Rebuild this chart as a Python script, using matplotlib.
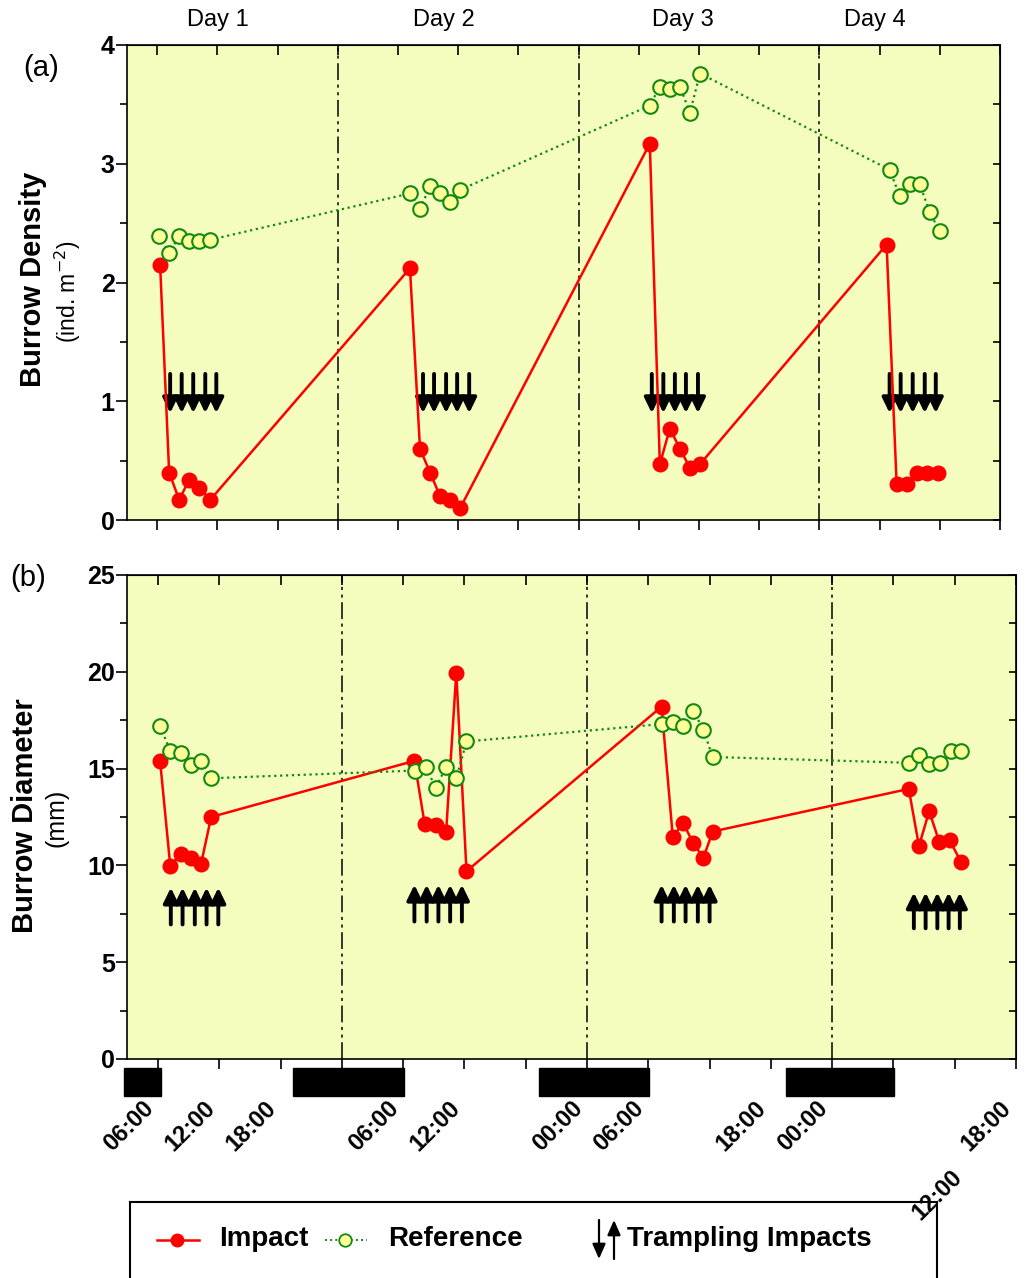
import numpy as np
import matplotlib
matplotlib.use("Agg")
import matplotlib.pyplot as plt
import matplotlib.transforms as mtransforms
from matplotlib.patches import Rectangle

plt.rcParams['font.family'] = ['Liberation Sans', 'DejaVu Sans']

# time axis in hours from 00:00 of day 1
dens_ref_t = [6.2, 7.2, 8.2, 9.2, 10.2, 11.3, 31.2, 32.2, 33.2, 34.2, 35.2, 36.2,
              55.1, 56.1, 57.1, 58.1, 59.1, 60.1, 79.0, 80.0, 81.0, 82.0, 83.0, 84.0]
dens_ref = [2.39, 2.25, 2.39, 2.35, 2.35, 2.36, 2.75, 2.62, 2.81, 2.75, 2.68, 2.78,
            3.49, 3.65, 3.63, 3.65, 3.43, 3.76, 2.95, 2.73, 2.83, 2.83, 2.59, 2.43]
dens_imp_t = [6.3, 7.2, 8.2, 9.2, 10.2, 11.3, 31.2, 32.2, 33.2, 34.2, 35.2, 36.2,
              55.1, 56.1, 57.1, 58.1, 59.1, 60.1, 78.7, 79.7, 80.7, 81.7, 82.7, 83.8]
dens_imp = [2.15, 0.40, 0.17, 0.34, 0.27, 0.17, 2.12, 0.60, 0.40, 0.20, 0.17, 0.10,
            3.17, 0.47, 0.77, 0.60, 0.44, 0.47, 2.32, 0.30, 0.30, 0.40, 0.40, 0.40]

diam_ref_t = [6.2, 7.2, 8.2, 9.2, 10.2, 11.2, 31.2, 32.2, 33.2, 34.2, 35.2, 36.2,
              55.3, 56.4, 57.4, 58.4, 59.4, 60.3, 79.5, 80.5, 81.5, 82.6, 83.6, 84.6]
diam_ref = [17.2, 15.9, 15.8, 15.2, 15.4, 14.5, 14.9, 15.1, 14.0, 15.1, 14.5, 16.4,
            17.3, 17.4, 17.2, 18.0, 17.0, 15.6, 15.3, 15.7, 15.25, 15.3, 15.9, 15.9]
diam_imp_t = [6.2, 7.2, 8.2, 9.2, 10.2, 11.2, 31.1, 32.1, 33.2, 34.2, 35.2, 36.2,
              55.3, 56.4, 57.4, 58.4, 59.4, 60.3, 79.5, 80.5, 81.5, 82.5, 83.5, 84.6]
diam_imp = [15.4, 9.95, 10.6, 10.4, 10.05, 12.5, 15.4, 12.15, 12.1, 11.7, 19.95, 9.7,
            18.2, 11.45, 12.2, 11.15, 10.4, 11.75, 13.95, 11.0, 12.8, 11.2, 11.3, 10.2]

# trampling events
dens_arrow_t = [7.3, 8.45, 9.6, 10.8, 11.9, 32.5, 33.6, 34.8, 35.9, 37.1,
                55.3, 56.45, 57.6, 58.7, 59.9, 79.0, 80.1, 81.3, 82.5, 83.6]
dens_arrow_from = 1.23
dens_arrow_to = 0.90
diam_arrow_t = [7.25, 8.4, 9.6, 10.75, 11.9, 31.1, 32.3, 33.45, 34.6, 35.75,
                55.3, 56.5, 57.65, 58.85, 60.0, 80.0, 81.15, 82.3, 83.4, 84.5]
diam_arrow_from = [6.95] * 5 + [7.1] * 5 + [7.1] * 5 + [6.75] * 5
diam_arrow_to = [8.85] * 5 + [9.0] * 5 + [9.0] * 5 + [8.6] * 5

night_start = [2.7, 19.2, 43.3, 67.5]
night_end = [6.3, 30.1, 54.1, 78.1]

hours = list(range(6, 91, 6))
midnights = [24, 48, 72]
hour_labels = ['06:00', '12:00', '18:00', '', '06:00', '12:00', '', '00:00',
               '06:00', '', '18:00', '00:00', '', '', '18:00']
day_names = ['Day 1', 'Day 2', 'Day 3', 'Day 4']
day_pos = [12.1, 34.6, 58.4, 77.5]

bg = '#F4FCBE'
red = '#FF0000'
green = '#128A12'
face = '#FFFF99'
midline = (0, (11, 3, 2, 3, 2, 3))

fig = plt.figure(figsize=(10.28, 12.78), dpi=100)
ax1 = fig.add_axes([127 / 1028, 1 - 520 / 1278, 873 / 1028, 475 / 1278])
ax2 = fig.add_axes([127.4 / 1028, 1 - 1059 / 1278, 888.6 / 1028, 484 / 1278])
ax1.set_zorder(2)
ax2.set_zorder(2)


def style_axis(ax, ymax, major, minor):
    ax.set_facecolor(bg)
    ax.set_xlim(3, 90)
    ax.set_ylim(0, ymax)
    ax.set_xticks(hours, labels=[''] * len(hours))
    yt = np.arange(0, ymax + 0.01, major)
    ax.set_yticks(yt, labels=['%d' % v for v in yt], fontweight='bold', fontsize=18)
    ax.set_yticks(np.arange(0, ymax + 0.01, minor), minor=True)
    ax.tick_params(axis='x', direction='out', length=7, width=1.2)
    ax.tick_params(axis='y', which='major', direction='out', length=8, width=1.2, pad=1)
    ax.tick_params(axis='y', which='minor', direction='out', length=5, width=1.2)
    top = ax.secondary_xaxis('top')
    top.set_ticks(hours)
    top.tick_params(axis='x', direction='in', length=7, width=1.2, labeltop=False)
    right = ax.secondary_yaxis('right')
    right.set_ticks(np.arange(0, ymax + 0.01, minor))
    right.tick_params(axis='y', direction='in', length=5, width=1.2, labelright=False)
    for m in midnights:
        ax.axvline(m, color='black', lw=1.1, linestyle=midline, zorder=1)
    for s in ax.spines.values():
        s.set_linewidth(1.2)


def draw_series(ax, t_imp, v_imp, t_ref, v_ref):
    ax.plot(t_imp, v_imp, color=red, lw=1.8, marker='o', ms=10.5,
            mfc=red, mec=red, zorder=3)
    ax.plot(t_ref, v_ref, color=green, lw=1.6, ls=':', marker='o', ms=10.5,
            mfc=face, mec=green, mew=1.5, zorder=4)


def arrow(ax, x, y0, y1):
    ax.annotate('', xy=(x, y1), xytext=(x, y0),
                arrowprops=dict(arrowstyle='-|>,head_length=0.45,head_width=0.22',
                                color='black', lw=2.8, mutation_scale=20,
                                shrinkA=0, shrinkB=0), zorder=2)


# (a) burrow density
style_axis(ax1, 4, 1, 0.5)
draw_series(ax1, dens_imp_t, dens_imp, dens_ref_t, dens_ref)
for t in dens_arrow_t:
    arrow(ax1, t, dens_arrow_from, dens_arrow_to)
for name, p in zip(day_names, day_pos):
    ax1.text(p, 1.053, name, transform=ax1.get_xaxis_transform(),
             ha='center', va='center', fontsize=17)

# (b) burrow diameter
style_axis(ax2, 25, 5, 2.5)
draw_series(ax2, diam_imp_t, diam_imp, diam_ref_t, diam_ref)
for t, a, b in zip(diam_arrow_t, diam_arrow_from, diam_arrow_to):
    arrow(ax2, t, a, b)

ax2.set_xticks(hours, labels=hour_labels, rotation=45, ha='right',
               fontweight='bold', fontsize=17)
ax2.tick_params(axis='x', pad=20)
trans = mtransforms.blended_transform_factory(ax2.transData, ax2.transAxes)
for s, e in zip(night_start, night_end):
    ax2.add_patch(Rectangle((s, -0.0765), e - s, 0.0575, transform=trans,
                            facecolor='black', edgecolor='black', clip_on=False))
ax2.annotate('12:00', xy=(84, 0), xycoords=trans, xytext=(9, -77),
             textcoords='offset points', rotation=45, ha='right', va='top',
             fontweight='bold', fontsize=17, zorder=10)

# axis titles and panel letters
fig.text(33 / 1028, 1 - 279 / 1278, 'Burrow Density', rotation=90,
         ha='center', va='center', fontsize=21, fontweight='bold')
fig.text(68 / 1028, 1 - 292 / 1278, '(ind. m$^{-2}$)', rotation=90,
         ha='center', va='center', fontsize=16.5)
fig.text(25 / 1028, 1 - 816 / 1278, 'Burrow Diameter', rotation=90,
         ha='center', va='center', fontsize=21, fontweight='bold')
fig.text(56 / 1028, 1 - 818 / 1278, '(mm)', rotation=90,
         ha='center', va='center', fontsize=18)
fig.text(41 / 1028, 1 - 68 / 1278, '(a)', ha='center', va='center', fontsize=21)
fig.text(28 / 1028, 1 - 578 / 1278, '(b)', ha='center', va='center', fontsize=21)

# legend box (runs off the bottom edge, as in the original)
lax = fig.add_axes([130 / 1028, -0.02, 807 / 1028, 76 / 1278 + 0.02])
lax.set_zorder(1)
lax.patch.set_facecolor('none')
lax.set_xlim(130, 937)
lax.set_ylim(1278 + 0.02 * 1278, 1202)
lax.set_xticks([])
lax.set_yticks([])
for s in lax.spines.values():
    s.set_linewidth(1.5)
lax.plot([157, 199], [1240, 1240], color=red, lw=1.8)
lax.plot([177], [1240], 'o', color=red, ms=9)
lax.text(219, 1239, 'Impact', ha='left', va='center', fontsize=20, fontweight='bold')
lax.plot([325, 367], [1240, 1240], color=green, lw=1.4, ls=':')
lax.plot([345], [1240], 'o', mfc=face, mec=green, mew=1.3, ms=9)
lax.text(388, 1239, 'Reference', ha='left', va='center', fontsize=20, fontweight='bold')
for x, a, b in [(599, 1220, 1259), (614, 1259, 1220)]:
    lax.annotate('', xy=(x, b), xytext=(x, a),
                 arrowprops=dict(arrowstyle='-|>,head_length=0.5,head_width=0.22',
                                 color='black', lw=1.6, mutation_scale=18,
                                 shrinkA=0, shrinkB=0))
lax.text(627, 1239, 'Trampling Impacts', ha='left', va='center', fontsize=20,
         fontweight='bold')

fig.savefig('out.png', dpi=100)
